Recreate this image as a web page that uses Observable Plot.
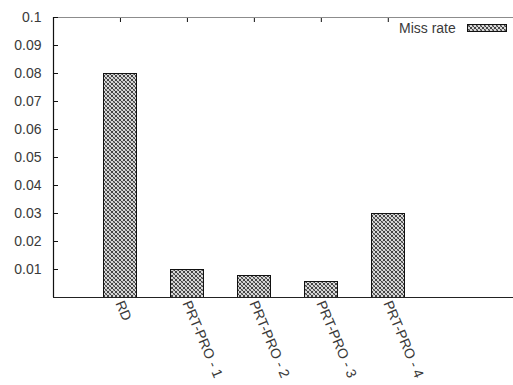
<!DOCTYPE html>
<html>
<head>
<meta charset="utf-8">
<script src="https://cdn.jsdelivr.net/npm/d3@7"></script>
<script src="https://cdn.jsdelivr.net/npm/@observablehq/plot@0.6"></script>
<style>
  html, body { margin: 0; padding: 0; background: #fff; }
  #wrap { position: relative; width: 513px; height: 385px; font-family: "Liberation Sans", Arial, sans-serif; }
  #legend { position: absolute; left: 399px; top: 20px; display: flex; align-items: center; font-size: 14px; color: #3a3a3a; }
  #legend svg { margin-left: 11px; }
</style>
</head>
<body>
<div id="wrap"></div>
<script>
const categories = ["RD", "PRT-PRO - 1", "PRT-PRO - 2", "PRT-PRO - 3", "PRT-PRO - 4"];
const missRate = [0.08, 0.0098, 0.0076, 0.0056, 0.0297];
const yTicks = [0.01, 0.02, 0.03, 0.04, 0.05, 0.06, 0.07, 0.08, 0.09, 0.1];
const seriesName = "Miss rate";

const data = categories.map((c, i) => ({category: c, index: i, value: missRate[i]}));
const idx = categories.map((c, i) => i);

const patternDefs = `
<pattern id="hatch" width="4" height="4" patternUnits="userSpaceOnUse">
  <rect width="4" height="4" fill="#d8d8d8"/>
  <rect x="0" y="0" width="1" height="1" fill="#444"/>
  <rect x="1" y="1" width="1" height="1" fill="#444"/>
  <rect x="2" y="2" width="1" height="1" fill="#444"/>
  <rect x="3" y="3" width="1" height="1" fill="#444"/>
  <rect x="3" y="0" width="1" height="1" fill="#444"/>
  <rect x="0" y="3" width="1" height="1" fill="#444"/>
  <rect x="1" y="2" width="1" height="1" fill="#888"/>
  <rect x="2" y="1" width="1" height="1" fill="#888"/>
</pattern>`;

const chart = Plot.plot({
  width: 513,
  height: 385,
  marginLeft: 53,
  marginRight: 0,
  marginTop: 17,
  marginBottom: 88,
  style: {fontFamily: "Liberation Sans, Arial, sans-serif", fontSize: "14px", color: "#3a3a3a", background: "#fff"},
  x: {type: "linear", domain: [-1, 5.87], axis: null},
  y: {domain: [0, 0.1], axis: null},
  marks: [
    Plot.rectY(data, {x1: d => d.index - 0.25, x2: d => d.index + 0.25, y: "value", fill: "url(#hatch)", stroke: "#111", strokeWidth: 1, shapeRendering: "crispEdges"}),
    Plot.ruleY([0.1], {stroke: "#8c8c8c", strokeWidth: 1.2}),
    Plot.ruleY([0], {stroke: "#222", strokeWidth: 1.2}),
    Plot.ruleX([-1], {stroke: "#111", strokeWidth: 1.2}),
    Plot.axisY({ticks: yTicks, tickSize: 5, dx: 5, tickFormat: () => "", stroke: "#111", label: null}),
    Plot.axisY({ticks: yTicks, tickSize: 0, tickPadding: 12, tickFormat: d => String(+d.toFixed(2)), fill: "#3a3a3a", fontSize: 14, label: null}),
    Plot.axisX({anchor: "top", ticks: idx, tickSize: 4, dy: 4, tickFormat: () => "", stroke: "#111", label: null}),
    Plot.text(data, {x: "index", frameAnchor: "bottom", text: "category", rotate: 67, textAnchor: "start", lineAnchor: "middle", dx: -1, dy: 4, fill: "#3a3a3a", fontSize: 14})
  ]
});

const defs = document.createElementNS("http://www.w3.org/2000/svg", "defs");
defs.innerHTML = patternDefs;
chart.insertBefore(defs, chart.firstChild);

const wrap = document.getElementById("wrap");
wrap.appendChild(chart);

const legend = document.createElement("div");
legend.id = "legend";
legend.innerHTML = `<span>${seriesName}</span><svg width="40" height="8"><defs>${patternDefs.replace('id="hatch"', 'id="hatch2"')}</defs><rect x="0.5" y="0.5" width="39" height="7" fill="url(#hatch2)" stroke="#111" stroke-width="1"/></svg>`;
wrap.appendChild(legend);
</script>
</body>
</html>
